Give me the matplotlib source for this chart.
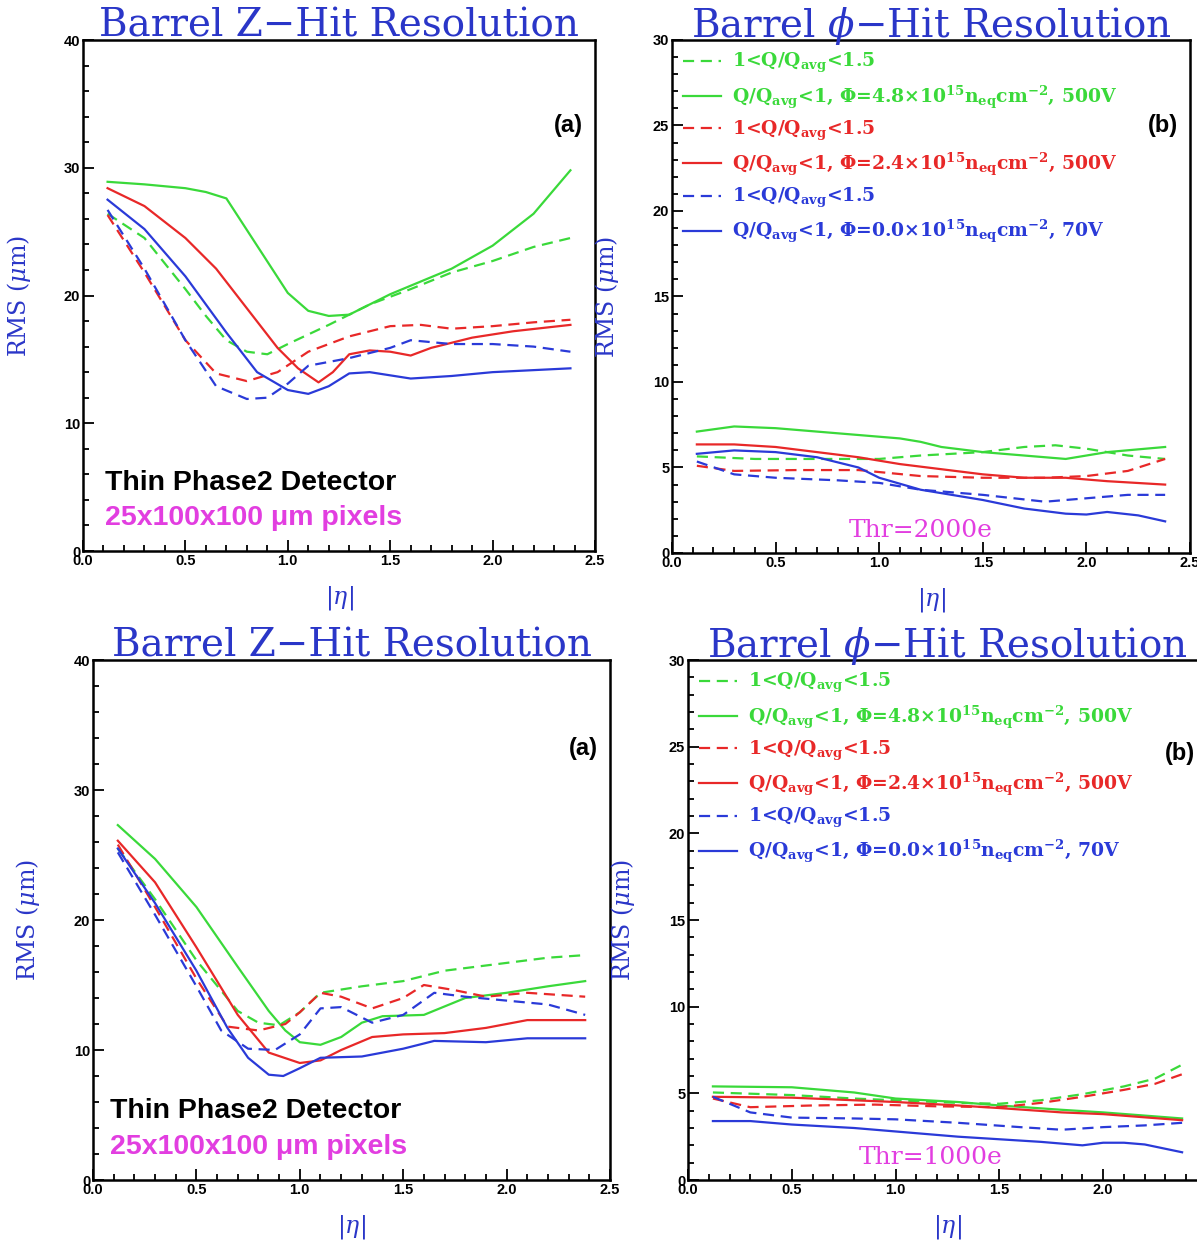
import matplotlib
matplotlib.use("Agg")
import matplotlib.pyplot as plt
from matplotlib.ticker import MultipleLocator

plt.rcParams['mathtext.fontset'] = 'custom'
plt.rcParams['mathtext.rm'] = 'DejaVu Serif:bold'
plt.rcParams['mathtext.it'] = 'DejaVu Serif:italic'
plt.rcParams['mathtext.bf'] = 'DejaVu Serif:bold'

GREEN = '#3ad93a'
RED = '#e82828'
BLUE = '#2a3ad8'
TITLE_BLUE = '#2a36c8'
MAGENTA = '#e23ee0'

# ---- top left: Z resolution, thr 2000e ----
tl_gs_x = [0.12, 0.3, 0.5, 0.6, 0.7, 0.85, 1.0, 1.1, 1.2, 1.3, 1.5, 1.8, 2.0, 2.2, 2.38]
tl_gs_y = [28.9, 28.7, 28.4, 28.1, 27.6, 23.9, 20.2, 18.8, 18.4, 18.5, 20.1, 22.1, 23.9, 26.4, 29.8]
tl_gd_x = [0.12, 0.3, 0.5, 0.6, 0.7, 0.8, 0.9, 1.0, 1.2, 1.4, 1.6, 1.8, 2.0, 2.2, 2.38]
tl_gd_y = [26.4, 24.5, 20.5, 18.4, 16.5, 15.6, 15.4, 16.2, 17.7, 19.3, 20.5, 21.8, 22.7, 23.8, 24.5]
tl_rs_x = [0.12, 0.3, 0.5, 0.65, 0.8, 0.95, 1.05, 1.15, 1.22, 1.3, 1.4, 1.5, 1.6, 1.7, 1.9, 2.1, 2.38]
tl_rs_y = [28.4, 27.0, 24.5, 22.1, 19.0, 15.9, 14.3, 13.2, 14.0, 15.4, 15.7, 15.6, 15.3, 15.9, 16.7, 17.2, 17.7]
tl_rd_x = [0.12, 0.3, 0.5, 0.65, 0.8, 0.95, 1.1, 1.3, 1.5, 1.65, 1.8, 2.0, 2.2, 2.38]
tl_rd_y = [26.3, 21.8, 16.5, 13.9, 13.3, 14.0, 15.6, 16.8, 17.6, 17.7, 17.4, 17.6, 17.9, 18.1]
tl_bs_x = [0.12, 0.3, 0.5, 0.7, 0.85, 1.0, 1.1, 1.2, 1.3, 1.4, 1.6, 1.8, 2.0, 2.38]
tl_bs_y = [27.5, 25.2, 21.5, 17.1, 14.0, 12.6, 12.3, 12.9, 13.9, 14.0, 13.5, 13.7, 14.0, 14.3]
tl_bd_x = [0.12, 0.3, 0.5, 0.65, 0.8, 0.9, 1.0, 1.1, 1.3, 1.5, 1.6, 1.8, 2.0, 2.2, 2.38]
tl_bd_y = [26.7, 22.1, 16.5, 12.9, 11.9, 12.0, 13.1, 14.5, 15.1, 15.9, 16.5, 16.2, 16.2, 16.0, 15.6]

# ---- top right: phi resolution, thr 2000e ----
tr_gs_x = [0.12, 0.3, 0.5, 0.7, 0.9, 1.1, 1.2, 1.3, 1.5, 1.7, 1.9, 2.1, 2.38]
tr_gs_y = [7.1, 7.4, 7.3, 7.1, 6.9, 6.7, 6.5, 6.2, 5.9, 5.7, 5.5, 5.9, 6.2]
tr_gd_x = [0.12, 0.4, 0.8, 1.0, 1.2, 1.5, 1.7, 1.85, 2.0, 2.2, 2.38]
tr_gd_y = [5.65, 5.5, 5.5, 5.5, 5.7, 5.9, 6.2, 6.3, 6.1, 5.7, 5.5]
tr_rs_x = [0.12, 0.3, 0.5, 0.7, 0.9, 1.1, 1.3, 1.5, 1.7, 1.9, 2.1, 2.38]
tr_rs_y = [6.35, 6.35, 6.2, 5.9, 5.6, 5.2, 4.9, 4.6, 4.4, 4.4, 4.2, 4.0]
tr_rd_x = [0.12, 0.3, 0.6, 0.9, 1.2, 1.5, 1.8, 2.0, 2.2, 2.38]
tr_rd_y = [5.1, 4.8, 4.85, 4.85, 4.5, 4.4, 4.4, 4.5, 4.8, 5.5]
tr_bs_x = [0.12, 0.3, 0.5, 0.7, 0.9, 1.0, 1.2, 1.5, 1.7, 1.9, 2.0, 2.1, 2.25, 2.38]
tr_bs_y = [5.8, 6.0, 5.9, 5.6, 5.0, 4.4, 3.7, 3.1, 2.6, 2.3, 2.25, 2.4, 2.2, 1.85]
tr_bd_x = [0.12, 0.3, 0.5, 0.8, 1.0, 1.2, 1.5, 1.8, 2.0, 2.2, 2.38]
tr_bd_y = [5.35, 4.6, 4.4, 4.25, 4.1, 3.7, 3.4, 3.0, 3.2, 3.4, 3.4]

# ---- bottom left: Z resolution, thr 1000e ----
bl_gs_x = [0.12, 0.3, 0.5, 0.7, 0.85, 0.93, 1.0, 1.1, 1.2, 1.3, 1.4, 1.6, 1.8, 2.0, 2.2, 2.38]
bl_gs_y = [27.3, 24.7, 21.0, 16.4, 13.0, 11.5, 10.6, 10.4, 11.0, 12.1, 12.6, 12.7, 14.0, 14.4, 14.9, 15.3]
bl_gd_x = [0.12, 0.3, 0.5, 0.7, 0.8, 0.9, 1.0, 1.1, 1.3, 1.5, 1.7, 2.0, 2.2, 2.38]
bl_gd_y = [25.5, 21.6, 16.9, 13.0, 12.1, 11.9, 12.9, 14.4, 14.9, 15.3, 16.1, 16.7, 17.1, 17.3]
bl_rs_x = [0.12, 0.3, 0.5, 0.7, 0.85, 1.0, 1.1, 1.2, 1.35, 1.5, 1.7, 1.9, 2.1, 2.38]
bl_rs_y = [26.1, 22.9, 17.9, 12.7, 9.8, 9.0, 9.2, 10.0, 11.0, 11.2, 11.3, 11.7, 12.3, 12.3]
bl_rd_x = [0.12, 0.3, 0.5, 0.65, 0.8, 0.93, 1.0, 1.1, 1.2, 1.35, 1.5, 1.6, 1.75, 1.9, 2.1, 2.38]
bl_rd_y = [25.8, 21.0, 15.5, 11.8, 11.5, 12.0, 12.9, 14.4, 14.1, 13.2, 14.0, 15.0, 14.6, 14.1, 14.4, 14.1]
bl_bs_x = [0.12, 0.3, 0.5, 0.65, 0.75, 0.85, 0.92, 1.0, 1.1, 1.3, 1.5, 1.65, 1.9, 2.1, 2.38]
bl_bs_y = [25.5, 21.3, 16.1, 11.7, 9.4, 8.1, 8.0, 8.6, 9.4, 9.5, 10.1, 10.7, 10.6, 10.9, 10.9]
bl_bd_x = [0.12, 0.3, 0.5, 0.62, 0.75, 0.88, 1.0, 1.1, 1.2, 1.35, 1.5, 1.65, 1.8, 2.0, 2.2, 2.38]
bl_bd_y = [25.2, 20.4, 14.9, 11.5, 10.1, 10.0, 11.2, 13.2, 13.3, 12.1, 12.7, 14.4, 14.1, 13.8, 13.5, 12.7]

# ---- bottom right: phi resolution, thr 1000e ----
br_gs_x = [0.12, 0.5, 0.8, 1.0, 1.3, 1.5, 1.8, 2.0, 2.38]
br_gs_y = [5.4, 5.35, 5.05, 4.7, 4.5, 4.3, 4.05, 3.9, 3.55]
br_gd_x = [0.12, 0.5, 0.8, 1.0, 1.3, 1.5, 1.7, 1.9, 2.1, 2.25, 2.38]
br_gd_y = [5.05, 4.9, 4.7, 4.6, 4.45, 4.4, 4.6, 4.95, 5.4, 5.85, 6.65]
br_rs_x = [0.12, 0.5, 0.8, 1.0, 1.3, 1.5, 1.8, 2.0, 2.38]
br_rs_y = [4.8, 4.75, 4.6, 4.5, 4.3, 4.15, 3.9, 3.8, 3.45]
br_rd_x = [0.12, 0.3, 0.6, 0.9, 1.2, 1.5, 1.7, 1.9, 2.1, 2.25, 2.38]
br_rd_y = [4.7, 4.2, 4.3, 4.35, 4.25, 4.2, 4.45, 4.8, 5.2, 5.55, 6.1]
br_bs_x = [0.12, 0.3, 0.5, 0.8, 1.0, 1.3, 1.5, 1.7, 1.9, 2.0, 2.1, 2.2, 2.38]
br_bs_y = [3.4, 3.4, 3.2, 3.0, 2.8, 2.5, 2.35, 2.2, 2.0, 2.15, 2.15, 2.05, 1.6]
br_bd_x = [0.12, 0.3, 0.5, 0.8, 1.0, 1.3, 1.6, 1.8, 2.0, 2.2, 2.38]
br_bd_y = [4.8, 3.9, 3.6, 3.55, 3.5, 3.3, 3.05, 2.9, 3.05, 3.15, 3.3]

legend_labels = [
    r"1<Q/Q$_{\rm avg}$<1.5",
    r"Q/Q$_{\rm avg}$<1, $\Phi$=4.8$\times$10$^{15}$n$_{\rm eq}$cm$^{-2}$, 500V",
    r"1<Q/Q$_{\rm avg}$<1.5",
    r"Q/Q$_{\rm avg}$<1, $\Phi$=2.4$\times$10$^{15}$n$_{\rm eq}$cm$^{-2}$, 500V",
    r"1<Q/Q$_{\rm avg}$<1.5",
    r"Q/Q$_{\rm avg}$<1, $\Phi$=0.0$\times$10$^{15}$n$_{\rm eq}$cm$^{-2}$, 70V",
]

W, H = 1197, 1244
fig = plt.figure(figsize=(W / 100, H / 100), dpi=100)


def make_axes(left, top, right, bottom):
    return fig.add_axes([left / W, 1 - bottom / H, (right - left) / W, (bottom - top) / H])


def style(ax, ymax, ymaj, title):
    ax.set_xlim(0, 2.5)
    ax.set_ylim(0, ymax)
    ax.xaxis.set_major_locator(MultipleLocator(0.5))
    ax.xaxis.set_minor_locator(MultipleLocator(0.1))
    ax.yaxis.set_major_locator(MultipleLocator(ymaj))
    ax.yaxis.set_minor_locator(MultipleLocator(ymaj / 5))
    ax.tick_params(which='both', direction='in', top=False, right=False, width=1.3, pad=2)
    ax.tick_params(which='major', length=8)
    ax.tick_params(which='minor', length=4)
    ax.xaxis.set_major_formatter(plt.FormatStrFormatter('%.1f'))
    for lab in ax.get_xticklabels() + ax.get_yticklabels():
        lab.set_fontweight('bold')
        lab.set_fontsize(10.5)
        lab.set_fontfamily('Liberation Sans')
    for sp in ax.spines.values():
        sp.set_linewidth(1.8)
    ax.text(0.5, 1.006, title, transform=ax.transAxes, ha='center', va='baseline',
            fontsize=28, color=TITLE_BLUE, family='DejaVu Serif')
    ax.set_ylabel(r"RMS ($\mu$m)", fontsize=17, color=TITLE_BLUE, family='DejaVu Serif')
    ax.yaxis.set_label_coords(-0.098, 0.5)
    ax.set_xlabel(r"|$\eta$|", fontsize=17, color=TITLE_BLUE, family='DejaVu Serif')
    ax.xaxis.set_label_coords(0.5, -0.064)


def draw(ax, gd, gs, rd, rs, bd, bs, labels=None):
    curves = [(gd, GREEN, '--'), (gs, GREEN, '-'), (rd, RED, '--'),
              (rs, RED, '-'), (bd, BLUE, '--'), (bs, BLUE, '-')]
    for i, ((x, y), c, ls) in enumerate(curves):
        lab = labels[i] if labels else None
        ax.plot(x, y, color=c, ls=ls, lw=1.6, dashes=(5, 3) if ls == '--' else (None, None), label=lab)


def detector_text(ax, x0):
    ax.text(x0, 4.8, "Thin Phase2 Detector", fontsize=20.5, fontweight='bold',
            family='Liberation Sans', va='baseline')
    ax.text(x0, 2.0, "25x100x100 \u03bcm pixels", fontsize=20.5, fontweight='bold',
            family='Liberation Sans', color=MAGENTA, va='baseline')


ax1 = make_axes(83, 40, 595, 551)
draw(ax1, (tl_gd_x, tl_gd_y), (tl_gs_x, tl_gs_y), (tl_rd_x, tl_rd_y),
     (tl_rs_x, tl_rs_y), (tl_bd_x, tl_bd_y), (tl_bs_x, tl_bs_y))
style(ax1, 40, 10, "Barrel Z\u2212Hit Resolution")
ax1.text(2.44, 33.3, "(a)", fontsize=17, fontweight='bold', family='Liberation Sans', ha='right', va='center')
detector_text(ax1, 0.105)

ax2 = make_axes(672, 40, 1190, 553)
draw(ax2, (tr_gd_x, tr_gd_y), (tr_gs_x, tr_gs_y), (tr_rd_x, tr_rd_y),
     (tr_rs_x, tr_rs_y), (tr_bd_x, tr_bd_y), (tr_bs_x, tr_bs_y), legend_labels)
style(ax2, 30, 5, "Barrel $\\phi$\u2212Hit Resolution")
ax2.text(2.44, 25.0, "(b)", fontsize=17, fontweight='bold', family='Liberation Sans', ha='right', va='center')
ax2.text(1.2, 1.3, "Thr=2000e", fontsize=18, family='DejaVu Serif', color=MAGENTA, ha='center', va='center')

ax3 = make_axes(93, 660, 610, 1180)
draw(ax3, (bl_gd_x, bl_gd_y), (bl_gs_x, bl_gs_y), (bl_rd_x, bl_rd_y),
     (bl_rs_x, bl_rs_y), (bl_bd_x, bl_bd_y), (bl_bs_x, bl_bs_y))
style(ax3, 40, 10, "Barrel Z\u2212Hit Resolution")
ax3.text(2.44, 33.2, "(a)", fontsize=17, fontweight='bold', family='Liberation Sans', ha='right', va='center')
detector_text(ax3, 0.082)

ax4 = make_axes(688, 660, 1207, 1180)
draw(ax4, (br_gd_x, br_gd_y), (br_gs_x, br_gs_y), (br_rd_x, br_rd_y),
     (br_rs_x, br_rs_y), (br_bd_x, br_bd_y), (br_bs_x, br_bs_y), legend_labels)
style(ax4, 30, 5, "Barrel $\\phi$\u2212Hit Resolution")
ax4.text(2.44, 24.6, "(b)", fontsize=17, fontweight='bold', family='Liberation Sans', ha='right', va='center')
ax4.text(1.17, 1.3, "Thr=1000e", fontsize=18, family='DejaVu Serif', color=MAGENTA, ha='center', va='center')

for ax in (ax2, ax4):
    leg = ax.legend(loc='upper left', frameon=False, handlelength=2.0,
                    handletextpad=0.6, labelspacing=0.42, borderaxespad=0.2,
                    prop={'family': 'DejaVu Serif', 'weight': 'bold', 'size': 13.5})
    for txt, line in zip(leg.get_texts(), leg.get_lines()):
        txt.set_color(line.get_color())

fig.savefig("out.png", dpi=100)
